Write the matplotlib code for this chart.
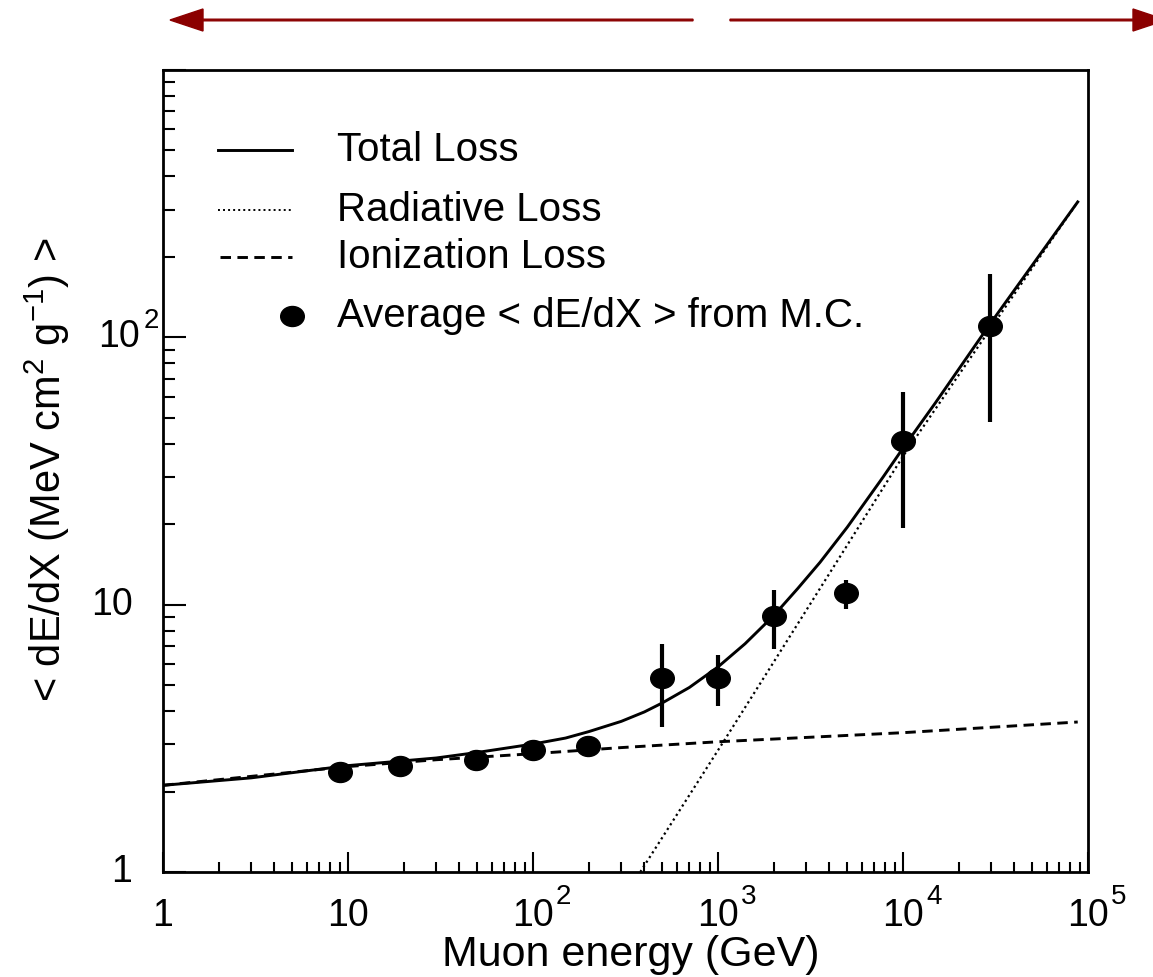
import numpy as np
import matplotlib
matplotlib.use("Agg")
import matplotlib.pyplot as plt
from matplotlib.path import Path
from matplotlib.transforms import Affine2D, IdentityTransform
from matplotlib.patches import FancyArrow
from matplotlib.ticker import LogLocator, NullFormatter

plt.rcParams['font.family'] = ['Liberation Sans', 'DejaVu Sans']
plt.rcParams['mathtext.fontset'] = 'custom'
plt.rcParams['mathtext.rm'] = 'Liberation Sans'
plt.rcParams['mathtext.default'] = 'regular'

#---------------------------------------------------------------------------
# values

# Monte Carlo averages (GeV, MeV cm2/g) and error bar ends
mc_E = [9, 19, 49, 100, 198, 495, 1000, 2000, 4900, 10000, 29500]
mc_dedx = [2.36, 2.49, 2.63, 2.85, 2.95, 5.31, 5.31, 9.04, 11.06, 40.9, 110]
mc_lo = [2.36, 2.49, 2.63, 2.85, 2.95, 3.50, 4.16, 6.84, 9.63, 19.4, 48.2]
mc_hi = [2.36, 2.49, 2.63, 2.85, 2.95, 7.14, 6.46, 11.3, 12.4, 62.6, 173]

# total loss curve
tot_E = [1, 3, 10, 30, 50, 100, 150, 200, 300, 400, 500, 700, 1000, 1400, 2000, 2700,
         3560, 5000, 7800, 10000, 15000, 29500, 88000]
tot_y = [2.11, 2.25, 2.50, 2.67, 2.80, 3.01, 3.17, 3.35, 3.66, 3.97, 4.29, 4.90, 5.85, 7.14,
         9.1, 11.5, 14.4, 19.5, 30, 38.5, 57, 112, 321]

# radiative loss curve
rad_E = [380, 1070, 2000, 4450, 10000, 29500, 88000]
rad_y = [1.0, 3.07, 6.1, 14.7, 35.9, 107, 321]

# ionization loss curve
ion_E = [1, 10, 30, 100, 300, 1000, 10000, 88000]
ion_y = [2.11, 2.48, 2.63, 2.77, 2.92, 3.07, 3.32, 3.64]

x_major = [1, 10, 100, 1000, 10000, 100000]
x_base = ["1", "10", "10", "10", "10", "10"]
x_exp = [None, None, "2", "3", "4", "5"]
y_major = [1, 10, 100]
y_base = ["1", "10", "10"]
y_exp = [None, None, "2"]

#---------------------------------------------------------------------------

W, H = 1153, 977
fig = plt.figure(figsize=(W / 100, H / 100), dpi=100)
ax = fig.add_axes([163 / W, 1 - 872 / H, 925 / W, 802 / H])
ax.set_xscale("log")
ax.set_yscale("log")
ax.set_xlim(1, 1e5)
ax.set_ylim(1, 1000)

lw = 2.1
ax.plot(tot_E, tot_y, color="black", lw=lw, solid_joinstyle="round")
ax.plot(rad_E, rad_y, color="black", lw=1.6, linestyle=(0, (1, 1.5)))
ax.plot(ion_E, ion_y, color="black", lw=lw, linestyle=(0, (3.6, 2.2)))

# slightly wide ellipse marker like the original
ell = Path.unit_circle().transformed(Affine2D().scale(1.18, 1.0))
mc_E_a = np.array(mc_E)
mc_y_a = np.array(mc_dedx)
yerr = [mc_y_a - np.array(mc_lo), np.array(mc_hi) - mc_y_a]
ax.errorbar(mc_E_a, mc_y_a, yerr=yerr, fmt="none", ecolor="black", elinewidth=3.0, capsize=0)
ax.plot(mc_E_a, mc_y_a, linestyle="none", marker=ell, markersize=17, color="black")

# axes frame and ticks
for s in ax.spines.values():
    s.set_linewidth(2.0)
ax.xaxis.set_major_locator(LogLocator(base=10, numticks=10))
ax.xaxis.set_minor_locator(LogLocator(base=10, subs=np.arange(2, 10), numticks=20))
ax.yaxis.set_major_locator(LogLocator(base=10, numticks=10))
ax.yaxis.set_minor_locator(LogLocator(base=10, subs=np.arange(2, 10), numticks=20))
ax.xaxis.set_major_formatter(NullFormatter())
ax.xaxis.set_minor_formatter(NullFormatter())
ax.yaxis.set_major_formatter(NullFormatter())
ax.yaxis.set_minor_formatter(NullFormatter())
ax.tick_params(axis="x", which="major", direction="in", length=14.4, width=1.5, top=False)
ax.tick_params(axis="x", which="minor", direction="in", length=7.2, width=1.5, top=False)
ax.tick_params(axis="y", which="major", direction="in", length=16.5, width=1.5, right=False)
ax.tick_params(axis="y", which="minor", direction="in", length=8.6, width=1.5, right=False)

# ROOT style tick labels: base centred, exponent raised to the right
for v, b, e in zip(x_major, x_base, x_exp):
    ax.annotate(b, xy=(v, 0), xycoords=("data", "axes fraction"), xytext=(0, -32),
                textcoords="offset points", ha="center", va="center", fontsize=27)
    if e:
        ax.annotate(e, xy=(v, 0), xycoords=("data", "axes fraction"), xytext=(16.5, -18),
                    textcoords="offset points", ha="left", va="center", fontsize=20)
for v, b, e in zip(y_major, y_base, y_exp):
    if e:
        ax.annotate(b, xy=(0, v), xycoords=("axes fraction", "data"), xytext=(-17, 0),
                    textcoords="offset points", ha="right", va="center", fontsize=27)
        ax.annotate(e, xy=(0, v), xycoords=("axes fraction", "data"), xytext=(-14, 12),
                    textcoords="offset points", ha="left", va="center", fontsize=20)
    else:
        ax.annotate(b, xy=(0, v), xycoords=("axes fraction", "data"), xytext=(-22, 0),
                    textcoords="offset points", ha="right", va="center", fontsize=27)

fig.text(631 / W, 1 - 966 / H, "Muon energy (GeV)", ha="center", va="baseline", fontsize=31)
fig.text(47 / W, 1 - 470 / H, "< dE/dX (MeV cm$^{2}$ g$^{-1}$) >", rotation=90,
         ha="center", va="center", fontsize=30)

# legend drawn by hand
lx0, lx1, tx = 0.0595, 0.1395, 0.188
ax.plot([lx0, lx1], [0.900, 0.900], transform=ax.transAxes, color="black", lw=lw)
ax.plot([lx0, lx1], [0.8254, 0.8254], transform=ax.transAxes, color="black", lw=1.4,
        linestyle=(0, (1, 1.6)))
ax.plot([lx0 + 0.002, lx1], [0.7668, 0.7668], transform=ax.transAxes, color="black", lw=lw,
        linestyle=(0, (3.6, 2.2)))
ax.plot([lx1], [0.6933], transform=ax.transAxes, marker=ell, markersize=17, color="black")
ax.text(tx, 0.900, "Total Loss", transform=ax.transAxes, va="center", fontsize=29)
ax.text(tx, 0.8254, "Radiative Loss", transform=ax.transAxes, va="center", fontsize=29)
ax.text(tx, 0.7668, "Ionization Loss", transform=ax.transAxes, va="center", fontsize=29)
ax.text(tx, 0.6933, "Average < dE/dX > from M.C.", transform=ax.transAxes, va="center", fontsize=29)

# dark red arrows above the frame (pixel coordinates, origin bottom left)
ay = H - 20
for x0, x1 in [(693, 170), (730, 1166)]:
    fig.patches.append(FancyArrow(x0, ay, x1 - x0, 0, width=1.6, head_width=22, head_length=33,
                                  length_includes_head=True, color="#8b0000",
                                  transform=IdentityTransform(), figure=fig))

fig.savefig("out.png", dpi=100)
